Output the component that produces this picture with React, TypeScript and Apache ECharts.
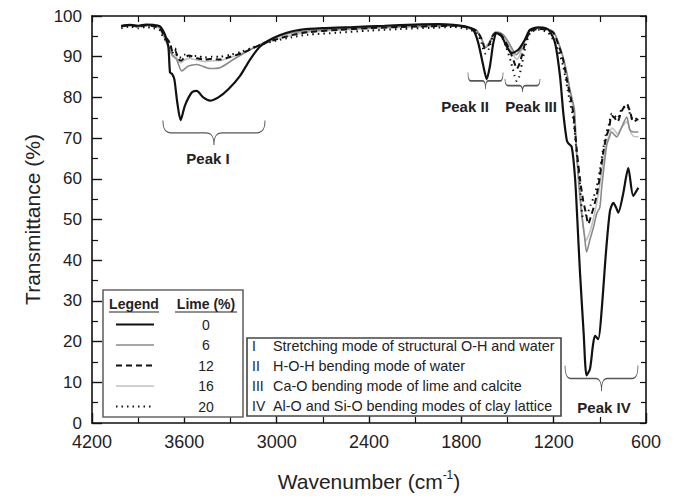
import React, { useEffect, useRef } from "react";
import * as echarts from "echarts";

// ---- Data ----
const W0 = [4010, 3950, 3900, 3850, 3800, 3760, 3740, 3726, 3704, 3693, 3680, 3665, 3646, 3624, 3596, 3552, 3520, 3477, 3433, 3379, 3314, 3238, 3173, 3108, 3022, 2935, 2848, 2700, 2500, 2300, 2100, 1950, 1850, 1760, 1722, 1690, 1657, 1635, 1614, 1592, 1570, 1538, 1505, 1473, 1430, 1386, 1354, 1300, 1250, 1224, 1191, 1159, 1137, 1115, 1105, 1083, 1061, 1045, 1029, 1005, 986, 964, 945, 931, 910, 888, 860, 834, 812, 795, 780, 750, 715, 683, 650];
const T0 = [97.6, 97.8, 97.6, 97.9, 97.8, 97.5, 96.5, 95.4, 92.5, 86.1, 85.8, 84.5, 78.8, 74.4, 78.0, 81.2, 81.6, 80.0, 79.2, 80.0, 82.0, 85.3, 89.3, 92.5, 94.6, 95.9, 96.6, 97.0, 97.3, 97.6, 97.9, 98.0, 97.8, 97.3, 96.6, 93.4, 87.7, 84.5, 87.7, 93.4, 95.8, 95.0, 92.5, 90.9, 91.7, 94.2, 96.6, 97.2, 97.0, 96.2, 93.4, 85.3, 76.0, 69.5, 68.7, 67.9, 60.2, 49.0, 37.0, 22.0, 11.7, 13.3, 19.0, 21.4, 20.6, 27.8, 42.0, 52.1, 54.1, 53.0, 51.7, 56.0, 62.6, 55.8, 57.8];

const W6 = [4010, 3950, 3900, 3850, 3800, 3760, 3740, 3720, 3700, 3680, 3650, 3617, 3574, 3520, 3433, 3368, 3282, 3173, 3065, 2935, 2800, 2600, 2400, 2200, 2000, 1850, 1760, 1700, 1670, 1640, 1615, 1590, 1565, 1530, 1500, 1470, 1445, 1420, 1390, 1355, 1300, 1240, 1200, 1160, 1120, 1095, 1080, 1065, 1050, 1035, 1020, 1000, 986, 965, 942, 920, 900, 888, 870, 855, 840, 823, 805, 790, 760, 725, 705, 683, 650];
const T6 = [97.5, 97.7, 97.5, 97.8, 97.6, 97.3, 96.0, 94.0, 92.0, 90.5, 89.3, 86.5, 87.7, 88.1, 87.1, 87.3, 89.3, 91.7, 93.8, 95.6, 96.3, 96.8, 97.1, 97.4, 97.6, 97.7, 97.3, 96.5, 94.5, 92.2, 93.5, 95.5, 96.0, 95.5, 94.0, 92.0, 90.5, 91.5, 94.0, 96.5, 97.0, 96.8, 96.0, 92.5, 87.0, 82.0, 79.6, 77.0, 66.0, 57.8, 52.0, 46.0, 42.0, 45.0, 48.0, 51.5, 53.0, 57.8, 64.0, 68.3, 70.0, 71.5, 70.8, 70.3, 72.5, 75.2, 72.0, 71.5, 71.5];

const W12 = [4010, 3950, 3900, 3850, 3800, 3760, 3735, 3715, 3700, 3690, 3675, 3660, 3640, 3620, 3600, 3570, 3520, 3470, 3420, 3370, 3300, 3230, 3160, 3080, 3000, 2900, 2800, 2600, 2400, 2200, 2000, 1850, 1760, 1700, 1670, 1645, 1620, 1595, 1570, 1540, 1510, 1480, 1455, 1440, 1425, 1405, 1380, 1350, 1300, 1240, 1200, 1170, 1140, 1110, 1090, 1072, 1050, 1029, 1010, 990, 975, 960, 940, 920, 900, 880, 860, 840, 823, 805, 785, 760, 725, 700, 683, 650];
const T12 = [97.5, 97.8, 97.4, 97.7, 97.5, 97.0, 95.5, 94.5, 93.8, 93.0, 91.0, 91.5, 89.5, 89.0, 89.8, 90.3, 89.6, 89.3, 89.5, 89.3, 90.0, 90.8, 92.0, 93.3, 94.3, 95.3, 96.0, 96.6, 97.0, 97.3, 97.5, 97.6, 97.2, 96.3, 94.5, 92.0, 93.0, 95.2, 96.0, 95.3, 93.5, 91.0, 88.5, 87.0, 88.0, 90.5, 94.0, 96.3, 96.8, 96.6, 95.8, 93.0, 89.5, 83.5, 80.0, 76.0, 67.0, 60.0, 55.0, 51.5, 48.9, 50.5, 53.0, 56.0, 60.5, 66.0, 70.0, 72.5, 75.5, 75.0, 74.0, 76.5, 78.4, 76.0, 74.0, 74.7];

const W16 = W12;
const T16 = [97.3, 97.6, 97.3, 97.6, 97.4, 96.8, 95.0, 93.5, 92.5, 91.5, 90.0, 90.5, 89.0, 88.5, 89.2, 89.6, 89.2, 88.8, 89.0, 89.0, 89.8, 90.8, 92.0, 93.3, 94.3, 95.3, 96.0, 96.5, 96.9, 97.2, 97.4, 97.5, 97.0, 96.0, 94.5, 92.5, 93.5, 95.5, 96.2, 95.5, 94.0, 92.0, 90.0, 89.3, 90.0, 92.0, 94.5, 96.5, 96.9, 96.7, 96.0, 93.5, 90.0, 85.0, 81.0, 77.0, 66.0, 57.0, 49.0, 44.8, 46.0, 47.5, 50.5, 54.0, 58.5, 64.0, 68.5, 70.5, 72.5, 72.0, 71.0, 72.5, 74.0, 71.5, 70.5, 70.3];

const W20 = W12;
const T20 = [97.0, 97.4, 97.0, 97.3, 97.0, 96.5, 94.5, 94.0, 93.8, 92.0, 91.0, 92.0, 89.8, 89.8, 90.5, 90.0, 90.2, 89.8, 90.0, 90.0, 90.5, 91.2, 92.2, 93.2, 94.0, 94.8, 95.4, 95.9, 96.4, 96.8, 97.1, 97.3, 96.8, 95.8, 93.5, 90.8, 92.0, 95.0, 95.8, 95.0, 92.5, 89.0, 85.5, 84.0, 85.0, 88.5, 93.0, 96.0, 96.6, 96.0, 94.0, 91.5, 88.0, 82.0, 78.0, 74.8, 66.0, 58.6, 50.5, 51.0, 52.0, 53.5, 55.5, 58.0, 62.0, 67.0, 71.0, 73.5, 76.0, 75.5, 74.8, 77.0, 78.0, 75.5, 74.5, 75.0];

const LIME = ["0", "6", "12", "16", "20"];
const NOTES_NUM = ["I", "II", "III", "IV"];
const NOTES_TEXT = [
  "Stretching mode of structural O-H and water",
  "H-O-H bending mode of water",
  "Ca-O bending mode of lime and calcite",
  "Al-O and Si-O bending modes of clay lattice",
];
// brace annotations in data space: [label, w1, w2, tTop, tBottom, labelW, labelT]
const PEAKS: [string, number, number, number, number, number, number][] = [
  ["Peak I", 3739, 3076, 74.3, 68.3, 3446, 64.9],
  ["Peak II", 1757, 1529, 86.1, 82.0, 1776, 77.7],
  ["Peak III", 1516, 1289, 84.5, 81.3, 1347, 77.7],
  ["Peak IV", 1126, 652, 14.1, 7.8, 873, 3.9],
];

const FONT = '"Liberation Sans", Arial, Helvetica, sans-serif';

const STYLES = [
  { color: "#111111", width: 2.2, type: "solid" as any },
  { color: "#8a8a8a", width: 1.6, type: "solid" as any },
  { color: "#111111", width: 2, type: [6, 4] as any },
  { color: "#c2c2c2", width: 1.6, type: "solid" as any },
  { color: "#111111", width: 2, type: [1.5, 4] as any },
];

const SERIES_DATA = [
  [W0, T0],
  [W6, T6],
  [W12, T12],
  [W16, T16],
  [W20, T20],
];

echarts.graphic.registerShape(
  "brace",
  echarts.graphic.extendPath(
    "M0,0 C0,6 2,9 8,9 L42,9 C48,9 50,12 50,18 C50,12 52,9 58,9 L92,9 C98,9 100,6 100,0",
    {}
  ) as any
);

export default function App() {
  const ref = useRef<HTMLDivElement>(null);
  useEffect(() => {
    if (!ref.current) return;
    const chart = echarts.init(ref.current, null, { renderer: "svg" });
    const axisCommon = {
      type: "value" as const,
      axisLine: { show: true, onZero: false, lineStyle: { color: "#111", width: 1.6 } },
      splitLine: { show: false },
    };
    const drawOrder = [3, 1, 4, 2, 0];
    const option: any = {
      animation: false,
      backgroundColor: "#ffffff",
      textStyle: { fontFamily: FONT },
      grid: { left: 92, right: 31, top: 16, bottom: 71 },
      xAxis: [
        {
          ...axisCommon,
          min: 600,
          max: 4200,
          interval: 600,
          inverse: true,
          position: "bottom",
          axisTick: { inside: true, length: 10, lineStyle: { color: "#111", width: 1.4 } },
          minorTick: { show: true, splitNumber: 2, length: 6, lineStyle: { color: "#111", width: 1.2 } },
          axisLabel: { color: "#222", fontSize: 18, margin: 10, fontFamily: FONT, formatter: (v: number) => String(v) },
          name: "Wavenumber (cm{sup|-1})",
          nameLocation: "middle",
          nameGap: 46,
          nameTextStyle: {
            color: "#222",
            fontSize: 21,
            fontFamily: FONT,
            lineHeight: 25,
            rich: { sup: { fontSize: 12, lineHeight: 12, verticalAlign: "top", color: "#222", fontFamily: FONT } },
          },
        },
        {
          ...axisCommon,
          min: 600,
          max: 4200,
          interval: 600,
          inverse: true,
          position: "top",
          axisTick: { inside: true, length: 6, lineStyle: { color: "#111", width: 1.2 } },
          minorTick: { show: true, splitNumber: 2, length: 6, lineStyle: { color: "#111", width: 1.2 } },
          axisLabel: { show: false },
        },
      ],
      yAxis: [
        {
          ...axisCommon,
          min: 0,
          max: 100,
          interval: 10,
          position: "left",
          axisTick: { inside: true, length: 10, lineStyle: { color: "#111", width: 1.4 } },
          minorTick: { show: true, splitNumber: 2, length: 6, lineStyle: { color: "#111", width: 1.2 } },
          axisLabel: { color: "#222", fontSize: 17, margin: 10, fontFamily: FONT },
          name: "Transmittance (%)",
          nameLocation: "middle",
          nameGap: 40,
          nameTextStyle: { color: "#222", fontSize: 21, fontFamily: FONT },
        },
        {
          ...axisCommon,
          min: 0,
          max: 100,
          interval: 10,
          position: "right",
          axisTick: { inside: true, length: 6, lineStyle: { color: "#111", width: 1.2 } },
          minorTick: { show: true, splitNumber: 2, length: 5, lineStyle: { color: "#111", width: 1.2 } },
          axisLabel: { show: false },
        },
      ],
      series: drawOrder.map((i) => ({
        name: LIME[i] + " %",
        type: "line",
        xAxisIndex: 0,
        yAxisIndex: 0,
        showSymbol: false,
        symbol: "none",
        smooth: 0.25,
        z: 2 + (i === 0 ? 3 : 0),
        lineStyle: { color: STYLES[i].color, width: STYLES[i].width, type: STYLES[i].type },
        data: SERIES_DATA[i][0].map((w, k) => [w, SERIES_DATA[i][1][k]]),
      })),
    };
    chart.setOption(option);

    const P = (w: number, t: number) =>
      chart.convertToPixel({ xAxisIndex: 0, yAxisIndex: 0 }, [w, t]) as number[];
    const g: any[] = [];
    const textColor = "#222";

    // braces + peak labels
    PEAKS.forEach(([label, w1, w2, tt, tb, lw, lt]) => {
      const a = P(w1, tt);
      const b = P(w2, tb);
      g.push({
        type: "brace",
        x: a[0],
        y: a[1],
        scaleX: (b[0] - a[0]) / 100,
        scaleY: (b[1] - a[1]) / 18,
        style: { stroke: "#555", lineWidth: 1.1, fill: "none", strokeNoScale: true },
        z: 10,
      });
      const l = P(lw, lt);
      g.push({
        type: "text",
        x: l[0],
        y: l[1],
        z: 10,
        style: {
          text: label,
          font: `bold 15px ${FONT}`,
          fill: textColor,
          align: "center",
          verticalAlign: "middle",
          textAlign: "center",
          textVerticalAlign: "middle",
        },
      });
    });

    // legend box
    const lx = 103, ly = 290, lwid = 140, lh = 127;
    g.push({ type: "rect", shape: { x: lx, y: ly, width: lwid, height: lh }, style: { fill: "#fff", stroke: "#666", lineWidth: 1.6 }, z: 8 });
    const headers: [string, number, number][] = [["Legend", 134, 50], ["Lime (%)", 206, 62]];
    headers.forEach(([t, cx, wdt]) => {
      g.push({
        type: "text", x: cx, y: 304, z: 9,
        style: { text: t, font: `bold 14px ${FONT}`, fill: textColor, align: "center", verticalAlign: "middle", textAlign: "center", textVerticalAlign: "middle" },
      });
      g.push({ type: "line", shape: { x1: cx - wdt / 2, y1: 312, x2: cx + wdt / 2, y2: 312 }, style: { stroke: textColor, lineWidth: 1.2 }, z: 9 });
    });
    LIME.forEach((v, i) => {
      const y = 324.5 + i * 20.5;
      const s = STYLES[i];
      g.push({
        type: "line", z: 9,
        shape: { x1: 116, y1: y, x2: 154, y2: y },
        style: { stroke: s.color, lineWidth: s.width, lineDash: Array.isArray(s.type) ? s.type : null },
      });
      g.push({
        type: "text", x: 206, y: y, z: 9,
        style: { text: v, font: `14px ${FONT}`, fill: textColor, align: "center", verticalAlign: "middle", textAlign: "center", textVerticalAlign: "middle" },
      });
    });

    // notes box
    g.push({ type: "rect", shape: { x: 247, y: 338, width: 314, height: 78 }, style: { fill: "#fff", stroke: "#444", lineWidth: 1.6 }, z: 8 });
    NOTES_NUM.forEach((n, i) => {
      const y = 345.5 + i * 20;
      g.push({
        type: "text", x: 252, y, z: 9,
        style: { text: n, font: `14px ${FONT}`, fill: textColor, align: "left", verticalAlign: "middle", textAlign: "left", textVerticalAlign: "middle" },
      });
      g.push({
        type: "text", x: 273, y, z: 9,
        style: { text: NOTES_TEXT[i], font: `14.4px ${FONT}`, fill: textColor, align: "left", verticalAlign: "middle", textAlign: "left", textVerticalAlign: "middle" },
      });
    });

    chart.setOption({ graphic: g });
    return () => chart.dispose();
  }, []);
  return <div ref={ref} style={{ position: "absolute", left: 0, top: 0, width: 677, height: 499 }} />;
}
